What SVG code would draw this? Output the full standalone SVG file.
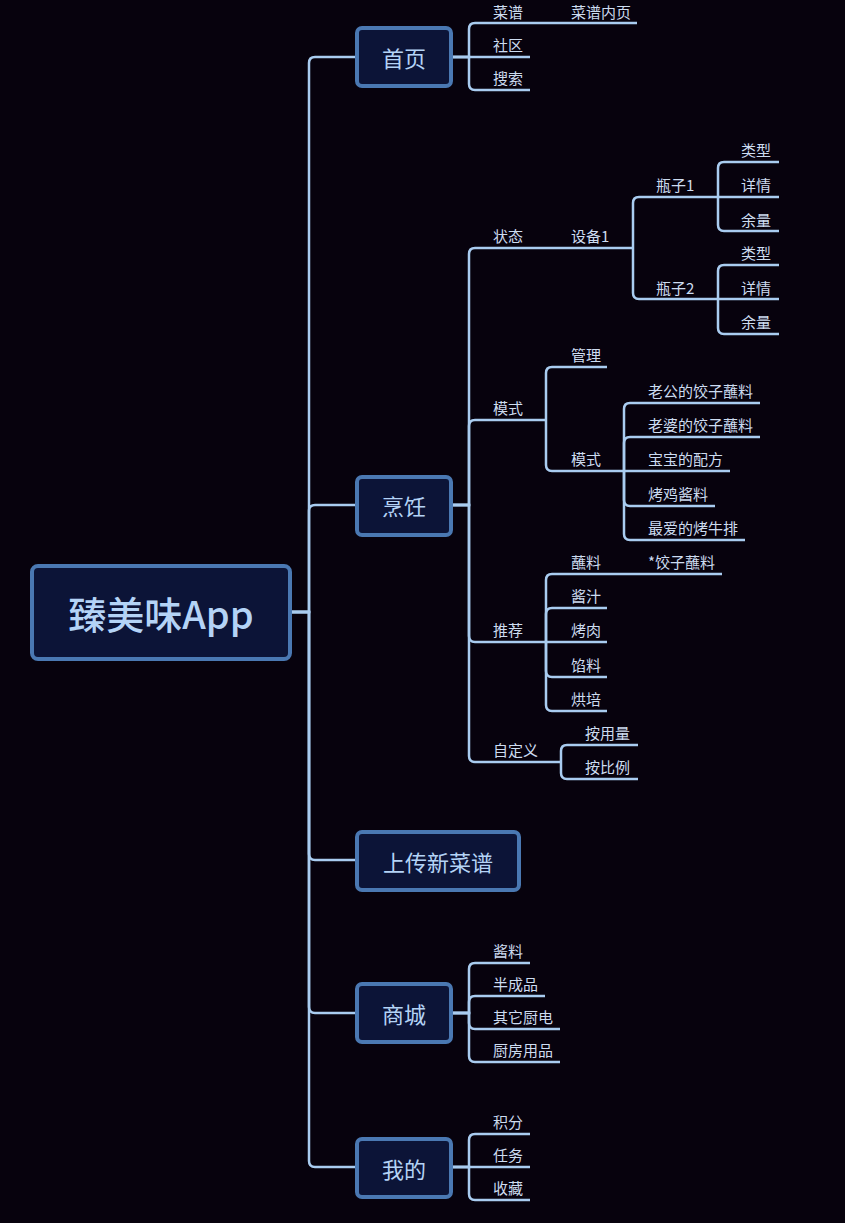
<svg xmlns="http://www.w3.org/2000/svg" width="845" height="1223" viewBox="0 0 845 1223">
<style>
.bg{fill:#07020d}
.node rect{fill:#0c1437;stroke:#4a78b2;stroke-width:4}
.node text{fill:#b4d3f6;font-family:"Noto Sans CJK SC","Noto Sans",sans-serif;text-anchor:middle;dominant-baseline:central}
.lbl{fill:#cddcf0;font-family:"Noto Sans CJK SC","Noto Sans",sans-serif;font-size:15px}
#connectors path{fill:none;stroke:#a9ccf0;stroke-width:2.5;stroke-linecap:butt}
</style>
<rect class="bg" x="0" y="0" width="845" height="1223"/>
<g id="connectors">
<path d="M290 612 H309 V63 Q309 57 315 57 H357"/>
<path d="M290 612 H309 V511 Q309 505 315 505 H357"/>
<path d="M290 612 H309 V854 Q309 860 315 860 H357"/>
<path d="M290 612 H309 V1007 Q309 1013 315 1013 H357"/>
<path d="M290 612 H309 V1161 Q309 1167 315 1167 H357"/>
<path d="M451 57 H469 V29 Q469 23 475 23 H637"/>
<path d="M451 57 H530"/>
<path d="M451 57 H469 V84 Q469 90 475 90 H530"/>
<path d="M451 505 H469 V254 Q469 248 475 248 H633"/>
<path d="M633 248 V203 Q633 197 639 197 H718"/>
<path d="M633 248 V293 Q633 299 639 299 H718"/>
<path d="M718 197 V168 Q718 162 724 162 H779"/>
<path d="M718 197 H779"/>
<path d="M718 197 V225 Q718 231 724 231 H779"/>
<path d="M718 299 V271 Q718 265 724 265 H779"/>
<path d="M718 299 H779"/>
<path d="M718 299 V328 Q718 334 724 334 H779"/>
<path d="M451 505 H469 V426 Q469 420 475 420 H546"/>
<path d="M546 420 V373 Q546 367 552 367 H607"/>
<path d="M546 420 V465 Q546 471 552 471 H624"/>
<path d="M624 471 V409 Q624 403 630 403 H760"/>
<path d="M624 471 V443 Q624 437 630 437 H760"/>
<path d="M624 471 H730"/>
<path d="M624 471 V500 Q624 506 630 506 H715"/>
<path d="M624 471 V534 Q624 540 630 540 H745"/>
<path d="M451 505 H469 V636 Q469 642 475 642 H546"/>
<path d="M546 642 V580 Q546 574 552 574 H722"/>
<path d="M546 642 V614 Q546 608 552 608 H607"/>
<path d="M546 642 H607"/>
<path d="M546 642 V671 Q546 677 552 677 H607"/>
<path d="M546 642 V705 Q546 711 552 711 H607"/>
<path d="M451 505 H469 V756 Q469 762 475 762 H561"/>
<path d="M561 762 V751 Q561 745 567 745 H638"/>
<path d="M561 762 V773 Q561 779 567 779 H638"/>
<path d="M451 1013 H469 V969 Q469 963 475 963 H530"/>
<path d="M451 1013 H469 V1002 Q469 996 475 996 H545"/>
<path d="M451 1013 H469 V1023 Q469 1029 475 1029 H560"/>
<path d="M451 1013 H469 V1056 Q469 1062 475 1062 H560"/>
<path d="M451 1167 H469 V1140 Q469 1134 475 1134 H530"/>
<path d="M451 1167 H530"/>
<path d="M451 1167 H469 V1194 Q469 1200 475 1200 H530"/>
</g>
<g id="root" class="node"><rect x="32" y="566" width="258" height="93" rx="6"/><text x="161" y="612" font-size="38" font-weight="500">臻美味App</text></g>
<g id="n-home" class="node"><rect x="357" y="28" width="94" height="58" rx="5"/><text x="404" y="57" font-size="22">首页</text></g>
<g id="n-cook" class="node"><rect x="357" y="477" width="94" height="58" rx="5"/><text x="404" y="505" font-size="22">烹饪</text></g>
<g id="n-upload" class="node"><rect x="357" y="832" width="162" height="58" rx="5"/><text x="438" y="861" font-size="22">上传新菜谱</text></g>
<g id="n-shop" class="node"><rect x="357" y="984" width="94" height="58" rx="5"/><text x="404" y="1013" font-size="22">商城</text></g>
<g id="n-mine" class="node"><rect x="357" y="1139" width="94" height="58" rx="5"/><text x="404" y="1168" font-size="22">我的</text></g>
<g id="labels">
<text class="lbl" x="493" y="18">菜谱</text>
<text class="lbl" x="571" y="18">菜谱内页</text>
<text class="lbl" x="493" y="51">社区</text>
<text class="lbl" x="493" y="84">搜索</text>
<text class="lbl" x="493" y="242">状态</text>
<text class="lbl" x="571" y="242">设备1</text>
<text class="lbl" x="656" y="191">瓶子1</text>
<text class="lbl" x="656" y="294">瓶子2</text>
<text class="lbl" x="741" y="156">类型</text>
<text class="lbl" x="741" y="191">详情</text>
<text class="lbl" x="741" y="226">余量</text>
<text class="lbl" x="741" y="259">类型</text>
<text class="lbl" x="741" y="294">详情</text>
<text class="lbl" x="741" y="328">余量</text>
<text class="lbl" x="493" y="414">模式</text>
<text class="lbl" x="571" y="361">管理</text>
<text class="lbl" x="571" y="465">模式</text>
<text class="lbl" x="648" y="397">老公的饺子蘸料</text>
<text class="lbl" x="648" y="431">老婆的饺子蘸料</text>
<text class="lbl" x="648" y="465">宝宝的配方</text>
<text class="lbl" x="648" y="500">烤鸡酱料</text>
<text class="lbl" x="648" y="534">最爱的烤牛排</text>
<text class="lbl" x="493" y="636">推荐</text>
<text class="lbl" x="571" y="568">蘸料</text>
<text class="lbl" x="648" y="568">*饺子蘸料</text>
<text class="lbl" x="571" y="602">酱汁</text>
<text class="lbl" x="571" y="636">烤肉</text>
<text class="lbl" x="571" y="671">馅料</text>
<text class="lbl" x="571" y="705">烘培</text>
<text class="lbl" x="493" y="756">自定义</text>
<text class="lbl" x="585" y="739">按用量</text>
<text class="lbl" x="585" y="773">按比例</text>
<text class="lbl" x="493" y="957">酱料</text>
<text class="lbl" x="493" y="990">半成品</text>
<text class="lbl" x="493" y="1023">其它厨电</text>
<text class="lbl" x="493" y="1056">厨房用品</text>
<text class="lbl" x="493" y="1128">积分</text>
<text class="lbl" x="493" y="1161">任务</text>
<text class="lbl" x="493" y="1194">收藏</text>
</g>
</svg>
